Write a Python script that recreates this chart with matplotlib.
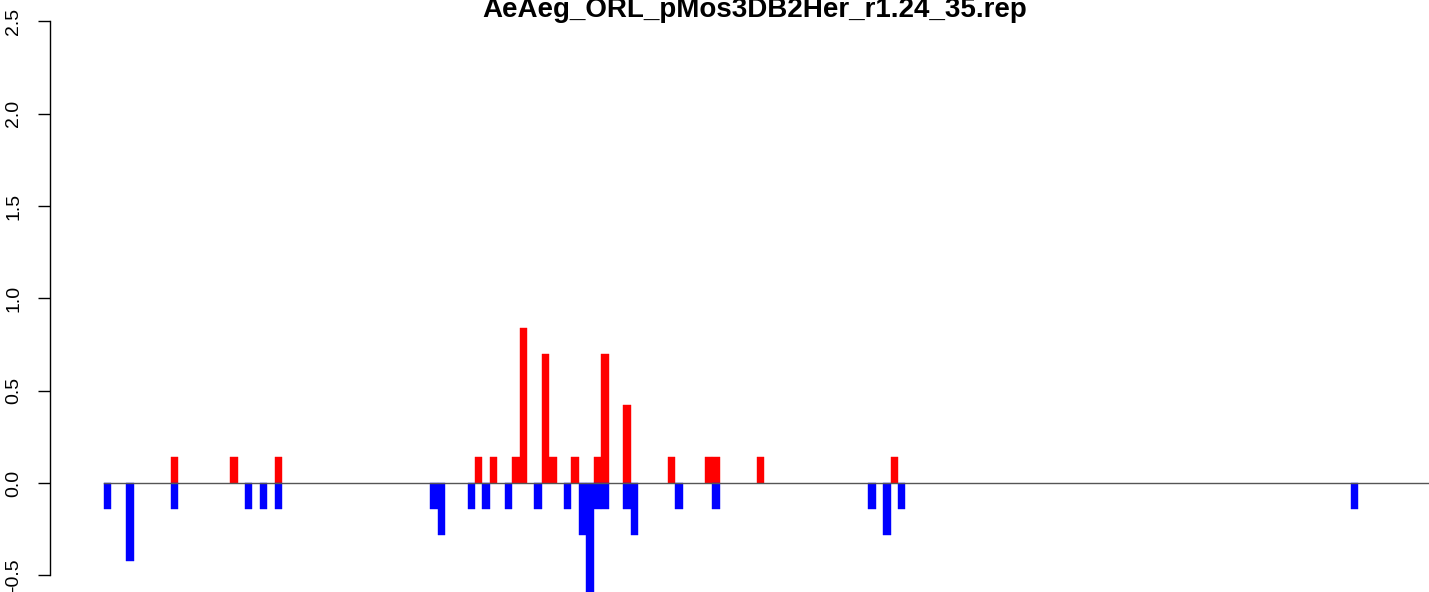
import matplotlib
matplotlib.use("Agg")
import matplotlib.pyplot as plt

title = "AeAeg_ORL_pMos3DB2Her_r1.24_35.rep"

red_bins = [9, 17, 23, 50, 52, 55, 56, 59, 60, 63, 66, 67, 70, 76, 81, 82, 88, 106]
red_vals = [0.14, 0.14, 0.14, 0.14, 0.14, 0.14, 0.84, 0.70, 0.14, 0.14, 0.14, 0.70,
            0.42, 0.14, 0.14, 0.14, 0.14, 0.14]

blue_bins = [0, 3, 9, 19, 21, 23, 44, 45, 49, 51, 54, 58, 62, 64, 65, 66, 67, 70, 71,
             77, 82, 103, 105, 107, 168]
blue_vals = [-0.14, -0.42, -0.14, -0.14, -0.14, -0.14, -0.14, -0.28, -0.14, -0.14,
             -0.14, -0.14, -0.14, -0.28, -0.62, -0.14, -0.14, -0.14, -0.28, -0.14,
             -0.14, -0.14, -0.28, -0.14, -0.14]

yticks = [-0.5, 0.0, 0.5, 1.0, 1.5, 2.0, 2.5]
n_bins = 179

plt.rcParams['font.family'] = ['Liberation Sans', 'DejaVu Sans']

fig = plt.figure(figsize=(14.29, 5.92), dpi=100)
left = 50 / 1429
ax = fig.add_axes([left, 0, 1 - left, 1])

ax.bar(red_bins, red_vals, width=1.0, align='edge', color='#ff0000',
       edgecolor='#ff0000', linewidth=0.3)
ax.bar(blue_bins, blue_vals, width=1.0, align='edge', color='#0000ff',
       edgecolor='#0000ff', linewidth=0.3)
ax.plot([0, n_bins + 2], [0, 0], color='#555555', linewidth=1.0)

ax.set_xlim(-54 / 7.42, (1429 - 104) / 7.42)
ax.set_ylim(-0.590, 2.616)

for s in ['top', 'right', 'bottom']:
    ax.spines[s].set_visible(False)
ax.spines['left'].set_bounds(-0.5, 2.5)
ax.spines['left'].set_linewidth(1.0)
ax.set_xticks([])
ax.set_yticks(yticks)
ax.set_yticklabels([f"{v:.1f}" for v in yticks], rotation=90, va='center',
                   fontsize=14)
ax.tick_params(axis='y', length=9, width=1.0, pad=11)

fig.text(755 / 1429, 1 - 17 / 592, title, ha='center', va='baseline',
         fontsize=20, fontweight='bold')

fig.savefig("out.png", dpi=100)
